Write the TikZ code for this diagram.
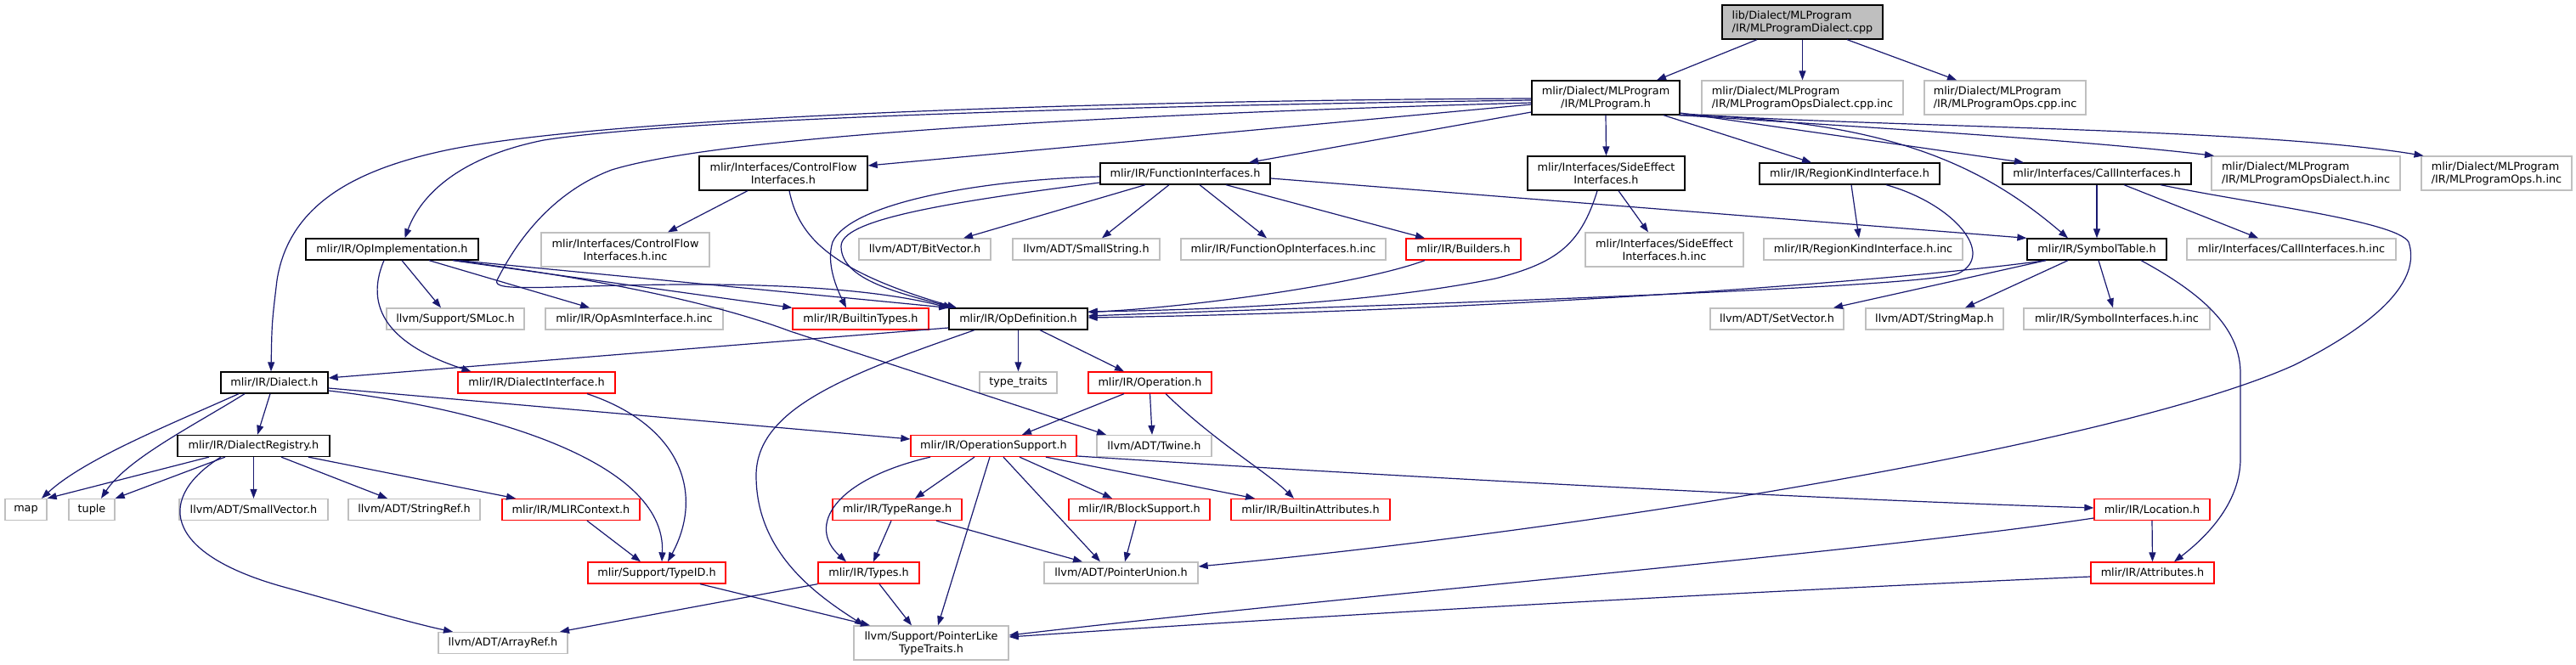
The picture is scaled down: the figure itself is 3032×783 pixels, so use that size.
\documentclass[tikz,border=0pt]{standalone}
\usepackage{fontspec}
\setmainfont{DejaVu Sans}
\usetikzlibrary{arrows.meta}
\definecolor{edgeblue}{HTML}{191970}
\definecolor{boxgrey}{HTML}{BFBFBF}
\begin{document}
\begin{tikzpicture}[x=1pt,y=-1pt]
\tikzset{
 nd/.style={draw, fill=white, inner sep=0pt, minimum height=25pt, align=center, font=\fontsize{12.8}{15}\selectfont, line width=1.3pt},
 two/.style={minimum height=40pt},
 blk/.style={nd, draw=black},
 gry/.style={nd, draw=boxgrey},
 rd/.style={nd, draw=red},
 rt/.style={nd, draw=black, fill=boxgrey},
 e/.style={draw=edgeblue, line width=1.2pt, -{Triangle[length=11pt,width=8pt]}},
}
\fill[white] (0,0) rectangle (3032,783);
\useasboundingbox (0,0) rectangle (3032,783);

% nodes
\node[rt, two, minimum width=189pt, align=left] (T) at (2121.5,26) {lib/Dialect/MLProgram\\/IR/MLProgramDialect.cpp};
\node[blk, two, minimum width=174pt] (M) at (1890,115) {mlir/Dialect/MLProgram\\/IR/MLProgram.h};
\node[gry, two, minimum width=237pt, align=left] (odc) at (2121.5,115) {mlir/Dialect/MLProgram\\/IR/MLProgramOpsDialect.cpp.inc};
\node[gry, two, minimum width=190pt, align=left] (occ) at (2360,115) {mlir/Dialect/MLProgram\\/IR/MLProgramOps.cpp.inc};
\node[blk, two, minimum width=198pt] (cf) at (922,204) {mlir/Interfaces/ControlFlow\\Interfaces.h};
\node[blk, minimum width=200pt] (fi) at (1395,204.5) {mlir/IR/FunctionInterfaces.h};
\node[blk, two, minimum width=185pt] (se) at (1890.5,204) {mlir/Interfaces/SideEffect\\Interfaces.h};
\node[blk, minimum width=212pt] (rk) at (2177,204.5) {mlir/IR/RegionKindInterface.h};
\node[blk, minimum width=222pt] (ci) at (2468,204.5) {mlir/Interfaces/CallInterfaces.h};
\node[gry, two, minimum width=222pt, align=left] (odh) at (2714,204) {mlir/Dialect/MLProgram\\/IR/MLProgramOpsDialect.h.inc};
\node[gry, two, minimum width=177pt, align=left] (ohi) at (2938.5,204) {mlir/Dialect/MLProgram\\/IR/MLProgramOps.h.inc};
\node[blk, minimum width=203pt] (oi) at (461.5,293.5) {mlir/IR/OpImplementation.h};
\node[gry, two, minimum width=198pt] (cfi) at (736,294) {mlir/Interfaces/ControlFlow\\Interfaces.h.inc};
\node[gry, minimum width=155pt] (bv) at (1088.5,293.5) {llvm/ADT/BitVector.h};
\node[gry, minimum width=173pt] (ss) at (1278.5,293.5) {llvm/ADT/SmallString.h};
\node[gry, minimum width=241pt] (foi) at (1510.5,293.5) {mlir/IR/FunctionOpInterfaces.h.inc};
\node[rd, minimum width=135pt] (bld) at (1722.5,293.5) {mlir/IR/Builders.h};
\node[gry, two, minimum width=186pt] (sei) at (1959,294) {mlir/Interfaces/SideEffect\\Interfaces.h.inc};
\node[gry, minimum width=234pt] (rki) at (2193,293.5) {mlir/IR/RegionKindInterface.h.inc};
\node[blk, minimum width=164pt] (st) at (2468,293.5) {mlir/IR/SymbolTable.h};
\node[gry, minimum width=246pt] (cii) at (2697,293.5) {mlir/Interfaces/CallInterfaces.h.inc};
\node[gry, minimum width=162pt] (sml) at (536,375.5) {llvm/Support/SMLoc.h};
\node[gry, minimum width=209pt] (oa) at (746.5,375.5) {mlir/IR/OpAsmInterface.h.inc};
\node[rd, minimum width=160pt] (bt) at (1013,375.5) {mlir/IR/BuiltinTypes.h};
\node[blk, minimum width=163pt] (od) at (1198.5,375.5) {mlir/IR/OpDefinition.h};
\node[gry, minimum width=157pt] (svec) at (2091.5,375.5) {llvm/ADT/SetVector.h};
\node[gry, minimum width=162pt] (sm) at (2277,375.5) {llvm/ADT/StringMap.h};
\node[gry, minimum width=219pt] (sii) at (2491.5,375.5) {mlir/IR/SymbolInterfaces.h.inc};
\node[blk, minimum width=126pt] (dl) at (323,450.5) {mlir/IR/Dialect.h};
\node[rd, minimum width=185pt] (di) at (631.5,450.5) {mlir/IR/DialectInterface.h};
\node[gry, minimum width=91pt] (tt) at (1198.5,450.5) {type\_traits};
\node[rd, minimum width=145pt] (op) at (1353.5,450.5) {mlir/IR/Operation.h};
\node[blk, minimum width=179pt] (dr) at (298.5,525) {mlir/IR/DialectRegistry.h};
\node[rd, minimum width=195pt] (os) at (1169.5,525) {mlir/IR/OperationSupport.h};
\node[gry, minimum width=135pt] (tw) at (1358.5,525) {llvm/ADT/Twine.h};
\node[gry, minimum width=49pt] (map) at (30.5,600) {map};
\node[gry, minimum width=54pt] (tu) at (108,600) {tuple};
\node[gry, minimum width=175pt] (svc) at (298.5,600) {llvm/ADT/SmallVector.h};
\node[gry, minimum width=155pt] (sr) at (487.5,600) {llvm/ADT/StringRef.h};
\node[rd, minimum width=162pt] (mc) at (672,600) {mlir/IR/MLIRContext.h};
\node[rd, minimum width=152pt] (tr) at (1056,600) {mlir/IR/TypeRange.h};
\node[rd, minimum width=166pt] (bs) at (1341,600) {mlir/IR/BlockSupport.h};
\node[rd, minimum width=187pt] (ba) at (1542.5,600) {mlir/IR/BuiltinAttributes.h};
\node[rd, minimum width=136pt] (loc) at (2533,600) {mlir/IR/Location.h};
\node[rd, minimum width=162pt] (tid) at (773,674.5) {mlir/Support/TypeID.h};
\node[rd, minimum width=119pt] (ty) at (1022.5,674.5) {mlir/IR/Types.h};
\node[gry, minimum width=181pt] (pu) at (1319.5,674.5) {llvm/ADT/PointerUnion.h};
\node[rd, minimum width=145pt] (attr) at (2533.5,674.5) {mlir/IR/Attributes.h};
\node[gry, minimum width=152pt] (ar) at (592,757) {llvm/ADT/ArrayRef.h};
\node[gry, two, minimum width=182pt] (pl) at (1096,757) {llvm/Support/PointerLike\\TypeTraits.h};

% edges
\draw[e] ([xshift=-53.5pt]T.south) -- ([xshift=60pt]M.north);
\draw[e] (T.south) -- (odc.north);
\draw[e] ([xshift=52.5pt]T.south) -- ([xshift=-57pt]occ.north);
\draw[e] ([yshift=-8pt]M.west) -- ([yshift=9pt]cf.east);
\draw[e] ([yshift=-17pt]M.west) -- ([xshift=75pt]fi.north);
\draw[e] (M.south) -- (se.north);
\draw[e] ([xshift=68pt]M.south) -- ([xshift=-45pt]rk.north);
\draw[e] ([yshift=-18pt]M.east) -- ([xshift=-86pt]ci.north);
\draw[e] (M.south east) .. controls (2200,150) and (2450,165) .. ([xshift=-108pt]odh.north);
\draw[e] ([yshift=2pt]M.south east) .. controls (2200,150) and (2650,150) .. ([xshift=-86pt]ohi.north);
\draw[e] ([xshift=-2pt]M.south east) .. controls (2230,140) and (2340,200) .. ([xshift=-34pt]st.north);
\draw[e] ([yshift=-3pt]M.west) .. controls (1300,125) and (800,140) .. (640,165) .. controls (540,185) and (495,230) .. ([xshift=15pt]oi.north);
\draw[e] ([yshift=-1pt]M.west) .. controls (1300,118) and (700,138) .. (520,178) .. controls (420,200) and (340,240) .. (326,330) .. controls (320,380) .. ([xshift=-4pt]dl.north);
\draw[e] ([yshift=-6pt]M.west) .. controls (1300,135) and (850,160) .. (720,200) .. controls (640,230) and (600,300) .. (585,330) .. controls (578,345) and (650,336) .. (800,335) .. controls (950,334) and (1050,345) .. (od.north west);
\draw[e] ([xshift=-42pt]cf.south) -- ([xshift=50pt]cfi.north);
\draw[e] ([xshift=7pt]cf.south) .. controls (940,280) and (980,320) .. ([xshift=-72.5pt]od.north);
\draw[e] ([yshift=-3.5pt]fi.west) .. controls (1150,212) and (1000,240) .. (980,285) .. controls (972,310) and (985,340) .. ([xshift=-17pt]bt.north);
\draw[e] ([yshift=-10.5pt]fi.west) .. controls (1100,240) and (990,260) .. (990,290) .. controls (990,330) and (1060,345) .. ([xshift=5pt]od.north west);
\draw[e] ([xshift=-47pt]fi.south) -- ([xshift=45.5pt]bv.north);
\draw[e] ([xshift=-19pt]fi.south) -- ([xshift=18.5pt]ss.north);
\draw[e] ([xshift=17pt]fi.south) -- ([xshift=-19.5pt]foi.north);
\draw[e] ([xshift=48pt]fi.south) -- ([xshift=-45.5pt]bld.north);
\draw[e] ([yshift=-5.5pt]fi.east) -- (st.north west);
\draw[e] ([xshift=14.5pt]se.south) -- ([xshift=-19pt]sei.north);
\draw[e] ([xshift=-10.5pt]se.south) .. controls (1860,290) and (1830,310) .. (1760,328) .. controls (1600,360) and (1400,365) .. ([yshift=8.5pt]od.east);
\draw[e] ([xshift=-45.5pt]bld.south) .. controls (1600,335) and (1400,362) .. ([yshift=8pt]od.east);
\draw[e] ([xshift=2pt]rk.south) -- ([xshift=-5pt]rki.north);
\draw[e] ([xshift=43pt]rk.south) .. controls (2300,240) and (2350,300) .. (2305,322) .. controls (2260,340) and (1600,360) .. ([yshift=3.5pt]od.east);
\draw[e] ([xshift=-60pt]st.south) .. controls (2200,335) and (1700,368) .. ([yshift=1.5pt]od.east);
\draw[e] (ci.south) -- (st.north);
\draw[e] ([xshift=32pt]ci.south) -- ([xshift=-39pt]cii.north);
\draw[e] ([xshift=75pt]ci.south) .. controls (2650,240) and (2820,260) .. (2835,285) .. controls (2850,330) and (2800,380) .. (2700,430) .. controls (2500,520) and (1900,620) .. ([yshift=7.5pt]pu.east);
\draw[e] ([xshift=-60pt]st.south) -- ([xshift=66.5pt]svec.north);
\draw[e] ([xshift=-34pt]st.south) -- ([xshift=36pt]sm.north);
\draw[e] ([xshift=2pt]st.south) -- ([xshift=-4.5pt]sii.north);
\draw[e] ([xshift=52pt]st.south) .. controls (2600,350) and (2637,390) .. (2637,440) -- (2637,540) .. controls (2637,590) and (2600,630) .. ([xshift=25.5pt]attr.north);
\draw[e] ([xshift=11.5pt]oi.south) -- ([xshift=-17pt]sml.north);
\draw[e] ([xshift=43.5pt]oi.south) -- ([xshift=-52.5pt]oa.north);
\draw[e] ([xshift=71.5pt]oi.south) -- (bt.north west);
\draw[e] ([xshift=78.5pt]oi.south) -- (od.north west);
\draw[e] ([xshift=73pt]oi.south) .. controls (720,330) and (850,360) .. (930,390) -- ([xshift=-56.5pt]tw.north);
\draw[e] ([xshift=-9.5pt]oi.south) .. controls (425,370) and (470,410) .. ([xshift=-77pt]di.north);
\draw[e] ([yshift=-10.5pt]od.west) -- ([yshift=5.5pt]dl.east);
\draw[e] (od.south) -- (tt.north);
\draw[e] ([xshift=25.5pt]od.south) -- ([xshift=-30.5pt]op.north);
\draw[e] ([xshift=-51.5pt]od.south) .. controls (1000,440) and (890,480) .. (890,560) .. controls (890,650) and (960,700) .. ([xshift=-79pt]pl.north);
\draw[e] ([xshift=-30.5pt]op.south) -- ([xshift=33.5pt]os.north);
\draw[e] (op.south) -- ([xshift=-2.5pt]tw.north);
\draw[e] ([xshift=18.5pt]op.south) .. controls (1430,520) and (1490,555) .. ([xshift=-19.5pt]ba.north);
\draw[e] ([xshift=-42pt]dl.south) .. controls (200,500) and (100,540) .. ([xshift=18.5pt]map.north);
\draw[e] ([xshift=-35pt]dl.south) .. controls (230,500) and (150,540) .. ([xshift=11pt]tu.north);
\draw[e] ([xshift=-5pt]dl.south) -- ([xshift=4.5pt]dr.north);
\draw[e] ([yshift=-9.5pt]dl.east) .. controls (560,480) and (785,540) .. ([xshift=6pt]tid.north);
\draw[e] ([yshift=-6.5pt]dl.east) -- ([yshift=8pt]os.west);
\draw[e] ([xshift=59.5pt]di.south) .. controls (800,500) and (830,580) .. ([xshift=13pt]tid.north);
\draw[e] ([xshift=-52.5pt]dr.south) -- (map.north east);
\draw[e] ([xshift=-33.5pt]dr.south) -- (tu.north east);
\draw[e] (dr.south) -- (svc.north);
\draw[e] ([xshift=32.5pt]dr.south) -- ([xshift=-31.5pt]sr.north);
\draw[e] ([xshift=64.5pt]dr.south) -- ([xshift=-65pt]mc.north);
\draw[e] ([xshift=-38.5pt]dr.south) .. controls (185,585) and (190,650) .. (330,690) .. controls (420,715) and (490,735) .. ([xshift=-59pt]ar.north);
\draw[e] ([xshift=19pt]mc.south) -- ([xshift=-19pt]tid.north);
\draw[e] ([xshift=-22.5pt]os.south) -- ([xshift=21pt]tr.north);
\draw[e] ([xshift=-74.5pt]os.south) .. controls (980,565) and (950,620) .. ([xshift=-26.5pt]ty.north);
\draw[e] ([xshift=-4.5pt]os.south) -- ([xshift=8pt]pl.north);
\draw[e] ([xshift=11.5pt]os.south) -- ([xshift=-24.5pt]pu.north);
\draw[e] ([xshift=30.5pt]os.south) -- ([xshift=-32pt]bs.north);
\draw[e] ([xshift=61.5pt]os.south) -- ([xshift=-65.5pt]ba.north);
\draw[e] ([yshift=-12pt]os.east) .. controls (1700,565) and (2200,590) .. ([yshift=2pt]loc.west);
\draw[e] ([xshift=-7pt]tr.south) -- ([xshift=5.5pt]ty.north);
\draw[e] ([xshift=46pt]tr.south) -- ([xshift=-45.5pt]pu.north);
\draw[e] ([xshift=-4pt]bs.south) -- ([xshift=4.5pt]pu.north);
\draw[e] (ty.south west) -- ([xshift=67pt]ar.north);
\draw[e] ([xshift=12.5pt]ty.south) -- ([xshift=-23pt]pl.north);
\draw[e] ([xshift=51pt]tid.south) -- ([xshift=-72pt]pl.north);
\draw[e] (loc.south) -- (attr.north);
\draw[e] ([yshift=-10pt]loc.west) .. controls (2200,650) and (1600,700) .. ([yshift=9pt]pl.east);
\draw[e] ([yshift=-4.5pt]attr.west) .. controls (2200,690) and (1700,715) .. ([yshift=7pt]pl.east);
\end{tikzpicture}
\end{document}
